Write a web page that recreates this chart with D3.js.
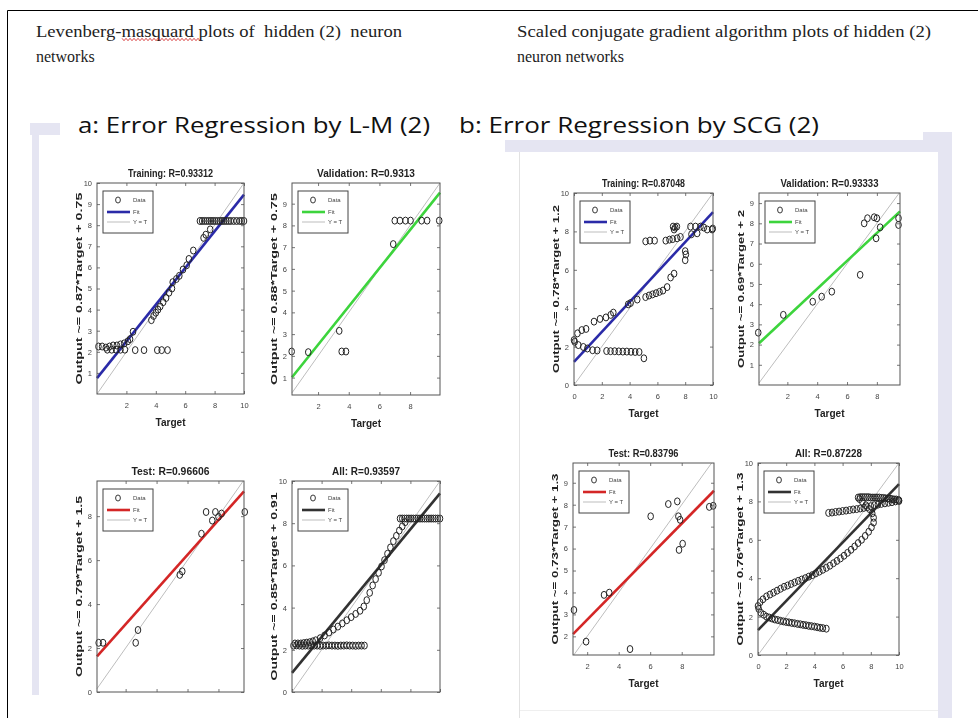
<!DOCTYPE html>
<html>
<head>
<meta charset="utf-8">
<script src="https://cdn.jsdelivr.net/npm/d3@7"></script>
<style>
  body { margin: 0; background: #fff; }
  svg { display: block; }
  text { white-space: pre; }
</style>
</head>
<body>
<div id="chart"></div>
<script>
// ---- data: [target, output] pairs ----
var lmTraining = [
  [0.1,2.25],[0.35,2.25],[0.6,2.2],[0.85,2.25],[1.1,2.3],[1.35,2.3],[1.6,2.35],[1.85,2.4],[2.1,2.5],
  [0.7,2.1],[1.0,2.1],[1.3,2.1],[1.6,2.1],[1.9,2.1],[2.6,2.08],[3.2,2.08],[4.1,2.08],[4.4,2.08],[4.8,2.08],
  [2.25,2.6],[2.45,2.95],[3.7,3.5],[3.85,3.7],[4.0,3.85],[4.15,4.0],[4.3,4.15],[4.5,4.35],[4.7,4.55],
  [4.9,4.8],[5.1,5.0],[5.15,5.3],[5.4,5.45],[5.6,5.6],[5.85,5.9],[6.1,6.1],[6.25,6.4],[6.55,6.8],
  [7.25,7.4],[7.4,7.55],[7.7,7.8],
  [7.0,8.2],[7.15,8.2],[7.3,8.2],[7.45,8.2],[7.6,8.2],[7.75,8.2],[7.9,8.2],[8.05,8.2],[8.2,8.2],[8.35,8.2],
  [8.5,8.2],[8.65,8.2],[8.8,8.2],[8.95,8.2],[9.1,8.2],[9.3,8.2],[9.5,8.2],[9.7,8.2],[9.85,8.2],[10.0,8.2]
];
var lmValidation = [
  [0.28,2.2],[1.36,2.17],[3.38,3.15],[3.54,2.2],[3.82,2.2],[6.9,7.14],[7.0,8.22],[7.34,8.22],
  [7.7,8.22],[8.03,8.22],[8.75,8.22],[9.11,8.22],[9.9,8.22]
];
var lmTest = [
  [0.26,2.24],[0.54,2.24],[2.65,2.24],[2.8,2.82],[5.5,5.33],[5.66,5.49],[6.9,7.2],[7.2,8.19],
  [7.6,7.8],[7.8,8.19],[8.0,7.97],[8.2,8.12],[9.7,8.19]
];
var lmAll = [
  [0.1,2.2],[0.3,2.21],[0.5,2.2],[0.7,2.19],[0.9,2.2],[1.1,2.2],[1.3,2.21],[1.5,2.2],[1.7,2.2],[1.9,2.19],
  [2.1,2.2],[2.3,2.2],[2.5,2.21],[2.7,2.2],[2.9,2.2],[3.1,2.19],[3.3,2.2],[3.5,2.2],[3.7,2.21],[3.9,2.2],
  [4.1,2.2],[4.3,2.19],[4.5,2.2],[4.7,2.2],[4.9,2.2],
  [0.2,2.3],[0.4,2.3],[0.6,2.3],[0.8,2.32],[1.0,2.34],[1.2,2.36],[1.4,2.4],[1.6,2.45],[1.9,2.55],[2.2,2.68],
  [2.5,2.82],[2.8,2.96],[3.1,3.1],[3.4,3.25],[3.7,3.4],[4.0,3.55],[4.3,3.7],[4.6,3.85],[4.85,4.05],[5.05,4.35],
  [5.25,4.7],[5.45,5.05],[5.65,5.35],[5.85,5.65],[6.05,5.95],[6.25,6.25],[6.45,6.55],[6.65,6.85],[6.85,7.15],
  [7.05,7.4],[7.25,7.65],[7.45,7.85],[7.65,8.05],
  [7.3,8.22],[7.45,8.22],[7.6,8.22],[7.75,8.22],[7.9,8.22],[8.05,8.22],[8.2,8.22],[8.35,8.22],[8.5,8.22],
  [8.65,8.22],[8.8,8.22],[8.95,8.22],[9.1,8.22],[9.25,8.22],[9.4,8.22],[9.55,8.22],[9.7,8.22],[9.85,8.22],[10.0,8.22]
];
var scgTraining = [
  [0,2.34],[0.25,2.69],[0.56,2.86],[0.87,2.92],[1.44,3.3],[1.87,3.44],[2.3,3.52],[2.64,3.65],[2.83,3.77],
  [0.05,2.25],[0.31,2.08],[0.67,1.98],[0.96,1.9],[1.34,1.81],[1.67,1.8],[2.34,1.77],[2.63,1.76],[2.93,1.76],
  [3.22,1.75],[3.51,1.74],[3.8,1.74],[4.1,1.73],[4.4,1.72],[4.69,1.72],[5.03,1.39],
  [3.9,4.2],[4.07,4.27],[4.55,4.45],[5.15,4.58],[5.4,4.66],[5.65,4.72],[5.9,4.78],[6.15,4.85],[6.4,4.92],
  [6.7,5.1],[6.95,5.6],[7.2,5.8],
  [5.15,7.48],[5.46,7.52],[5.8,7.52],[6.6,7.52],[6.87,7.57],[7.1,7.6],[7.42,7.64],[7.66,7.71],
  [7.13,8.25],[7.2,8.1],[7.28,8.2],[7.4,8.25],[8.0,6.97],[8.05,6.8],[8.0,6.5],
  [8.38,8.25],[8.74,8.25],[9.1,8.25],[9.34,8.2],[9.58,8.1],[9.94,8.1],[9.98,8.15],[8.45,7.85],[8.86,7.9]
];
var scgValidation = [
  [0.05,2.59],[1.73,3.47],[3.7,4.12],[4.3,4.37],[4.98,4.62],[6.88,5.45],[7.15,8.0],[7.37,8.25],
  [7.82,8.3],[8.0,8.25],[7.95,7.26],[8.22,7.8],[9.45,8.25],[9.45,7.92]
];
var scgTest = [
  [1.16,3.2],[1.93,1.76],[3.07,3.89],[3.4,3.99],[4.72,1.42],[6.03,7.47],[7.15,8.03],[7.72,8.15],
  [7.79,7.47],[7.9,7.31],[7.83,5.94],[8.06,6.22],[9.75,7.9],[10.0,7.95]
];
var scgAll = [
  [0.05,2.4],[0.2,2.2],[0.4,2.1],[0.6,2.0],[0.8,1.95],[1.0,1.9],[1.2,1.85],[1.4,1.82],[1.6,1.78],[1.8,1.75],
  [2.0,1.72],[2.2,1.7],[2.4,1.67],[2.6,1.65],[2.8,1.62],[3.0,1.6],[3.2,1.57],[3.4,1.55],[3.6,1.52],[3.8,1.5],
  [4.0,1.48],[4.2,1.45],[4.4,1.42],[4.6,1.4],[4.85,1.37],
  [0.0,2.55],[0.15,2.75],[0.35,2.9],[0.6,3.05],[0.85,3.15],[1.1,3.25],[1.35,3.35],[1.6,3.45],[1.85,3.55],
  [2.1,3.62],[2.35,3.7],[2.6,3.78],[2.85,3.86],[3.1,3.93],[3.35,4.0],[3.6,4.08],[3.85,4.16],[4.1,4.25],
  [4.35,4.34],[4.6,4.44],[4.85,4.54],[5.1,4.65],[5.35,4.78],[5.6,4.9],[5.85,5.03],[6.1,5.17],[6.35,5.32],
  [6.6,5.48],[6.85,5.65],[7.1,5.83],[7.35,6.0],[7.6,6.2],[7.85,6.42],[8.05,6.65],[8.2,6.9],[8.2,7.15],
  [8.1,7.38],[7.9,7.6],[7.65,7.8],[7.4,7.98],[7.2,8.12],
  [5.0,7.4],[5.25,7.42],[5.5,7.45],[5.75,7.47],[6.0,7.5],[6.25,7.52],[6.5,7.55],[6.75,7.58],[7.0,7.6],
  [7.25,7.63],[7.5,7.66],[7.75,7.7],[8.0,7.75],[8.25,7.8],[8.5,7.83],[8.75,7.87],[9.0,7.9],[9.25,7.93],
  [9.5,7.96],[9.75,8.0],[10.0,8.02],
  [7.1,8.2],[7.25,8.22],[7.4,8.22],[7.55,8.22],[7.7,8.22],[7.85,8.22],[8.0,8.2],[8.15,8.2],[8.3,8.2],
  [8.45,8.2],[8.6,8.2],[8.75,8.18],[8.9,8.18],[9.05,8.16],[9.2,8.15],[9.35,8.14],[9.5,8.12],[9.65,8.1],
  [9.8,8.1],[9.95,8.08],[10.0,8.05]
];

// titles, fit coefficients, ticks
var setNames = ["Training", "Validation", "Test", "All"];
var lmR = ["0.93312", "0.9313", "0.96606", "0.93597"];
var scgR = ["0.87048", "0.93333", "0.83796", "0.87228"];
var lmSlope = [0.87, 0.88, 0.79, 0.85];
var lmIntercept = [0.75, 0.75, 1.5, 0.91];
var scgSlope = [0.78, 0.69, 0.73, 0.76];
var scgIntercept = [1.2, 2, 1.3, 1.3];
var fitColors = ["#2c2ca8", "#3cd43c", "#d42828", "#333333"];
var ticksEven = [0, 2, 4, 6, 8, 10];
var ticksEvenNoZero = [2, 4, 6, 8, 10];
var ticksTwoToEight = [2, 4, 6, 8];
var ticksZeroToEight = [0, 2, 4, 6, 8];
var ticksOneToTen = [1, 2, 3, 4, 5, 6, 7, 8, 9, 10];
var ticksOneToNine = [1, 2, 3, 4, 5, 6, 7, 8, 9];
var ticksTwoToNine = [2, 3, 4, 5, 6, 7, 8, 9];

var svg = d3.select("#chart").append("svg").attr("width", 978).attr("height", 718);
var defs = svg.append("defs");
defs.append("filter").attr("id", "soft")
  .append("feGaussianBlur").attr("stdDeviation", 0.4);
defs.append("clipPath").attr("id", "leftCrop")
  .append("rect").attr("x", 0).attr("y", 0).attr("width", 480).attr("height", 695);

// page frame
svg.append("line").attr("x1", 7.5).attr("y1", 10.5).attr("x2", 978).attr("y2", 10.5)
  .attr("stroke", "#000").attr("stroke-width", 1);
svg.append("line").attr("x1", 7.5).attr("y1", 10.5).attr("x2", 7.5).attr("y2", 718)
  .attr("stroke", "#000").attr("stroke-width", 1);

// document headings
var serif = "'Liberation Serif', 'Times New Roman', serif";
svg.append("text").attr("x", 36).attr("y", 37).attr("font-family", serif).attr("font-size", 16)
  .attr("fill", "#222").attr("textLength", 366).attr("lengthAdjust", "spacingAndGlyphs")
  .text("Levenberg-masquard plots of  hidden (2)  neuron");
svg.append("text").attr("x", 36).attr("y", 62).attr("font-family", serif).attr("font-size", 16)
  .attr("fill", "#222").text("networks");
svg.append("text").attr("x", 517).attr("y", 37).attr("font-family", serif).attr("font-size", 16)
  .attr("fill", "#222").attr("textLength", 414).attr("lengthAdjust", "spacingAndGlyphs")
  .text("Scaled conjugate gradient algorithm plots of hidden (2)");
svg.append("text").attr("x", 517).attr("y", 62).attr("font-family", serif).attr("font-size", 16)
  .attr("fill", "#222").text("neuron networks");

// spell-check squiggle under "masquard"
var squiggle = d3.range(0, 40).map(function (k) { return [122 + k * 2, 39.5 + (k % 2 ? 1.2 : -1.2)]; });
svg.append("path").attr("d", d3.line()(squiggle)).attr("fill", "none")
  .attr("stroke", "#d02020").attr("stroke-width", 0.8);

var sans = "'Open Sans', 'Noto Sans', sans-serif";
svg.append("text").attr("x", 78).attr("y", 133).attr("font-family", sans).attr("font-size", 22)
  .attr("fill", "#111").attr("textLength", 352).attr("lengthAdjust", "spacingAndGlyphs")
  .text("a: Error Regression by L-M (2)");
svg.append("text").attr("x", 459).attr("y", 133).attr("font-family", sans).attr("font-size", 22)
  .attr("fill", "#111").attr("textLength", 360).attr("lengthAdjust", "spacingAndGlyphs")
  .text("b: Error Regression by SCG (2)");

// lavender image frames
var lav = "#e5e5f2";
svg.append("rect").attr("x", 30).attr("y", 123).attr("width", 30).attr("height", 12).attr("fill", lav);
svg.append("rect").attr("x", 32).attr("y", 123).attr("width", 7).attr("height", 572).attr("fill", lav);
svg.append("rect").attr("x", 505).attr("y", 140).attr("width", 447).attr("height", 12).attr("fill", lav);
svg.append("rect").attr("x", 923).attr("y", 132).attr("width", 29).attr("height", 20).attr("fill", lav);
svg.append("rect").attr("x", 938).attr("y", 132).attr("width", 14).attr("height", 586).attr("fill", lav);
svg.append("line").attr("x1", 519.5).attr("y1", 152).attr("x2", 519.5).attr("y2", 718)
  .attr("stroke", "#e2e2e2");
svg.append("line").attr("x1", 520).attr("y1", 710.5).attr("x2", 938).attr("y2", 710.5)
  .attr("stroke", "#efefef");

// the lower L-M plots are cropped in the source image: no x labels there
var plots = [
  { data: lmTraining, name: setNames[0], r: lmR[0], a: lmSlope[0], b: lmIntercept[0], color: fitColors[0],
    box: [97, 183, 244, 394], xDom: [0, 10], yDom: [0, 10], xt: ticksEvenNoZero, yt: ticksOneToTen, tw: 85, yw: 192, left: true },
  { data: lmValidation, name: setNames[1], r: lmR[1], a: lmSlope[1], b: lmIntercept[1], color: fitColors[1],
    box: [292, 183, 440, 395], xDom: [0.3, 9.95], yDom: [0.2, 9.95], xt: ticksTwoToEight, yt: ticksOneToNine, tw: 98, yw: 192, left: true },
  { data: lmTest, name: setNames[2], r: lmR[2], a: lmSlope[2], b: lmIntercept[2], color: fitColors[2],
    box: [97, 481, 244, 692], xDom: [0.15, 9.65], yDom: [0, 9.6], xt: ticksTwoToEight, yt: ticksZeroToEight, tw: 78, yw: 181, left: true, cropped: true },
  { data: lmAll, name: setNames[3], r: lmR[3], a: lmSlope[3], b: lmIntercept[3], color: fitColors[3],
    box: [292, 481, 440, 692], xDom: [0, 10], yDom: [0, 10], xt: ticksEven, yt: ticksEven, tw: 68, yw: 188, left: true, cropped: true },
  { data: scgTraining, name: setNames[0], r: scgR[0], a: scgSlope[0], b: scgIntercept[0], color: fitColors[0],
    box: [574, 193, 713, 385], xDom: [0, 10], yDom: [0, 10], xt: ticksEven, yt: ticksEven, tw: 83, yw: 168 },
  { data: scgValidation, name: setNames[1], r: scgR[1], a: scgSlope[1], b: scgIntercept[1], color: fitColors[1],
    box: [759, 193, 900, 385], xDom: [0.1, 9.55], yDom: [0, 9.5], xt: ticksTwoToEight, yt: ticksOneToNine, tw: 98, yw: 158 },
  { data: scgTest, name: setNames[2], r: scgR[2], a: scgSlope[2], b: scgIntercept[2], color: fitColors[2],
    box: [573, 463, 714, 655], xDom: [1.1, 10.05], yDom: [1.15, 9.9], xt: ticksTwoToEight, yt: ticksTwoToNine, tw: 70, yw: 171 },
  { data: scgAll, name: setNames[3], r: scgR[3], a: scgSlope[3], b: scgIntercept[3], color: fitColors[3],
    box: [758, 463, 899, 655], xDom: [0, 10], yDom: [0, 10], xt: ticksEven, yt: ticksEven, tw: 67, yw: 173 }
];

var leftGroup = svg.append("g").attr("clip-path", "url(#leftCrop)");
var rightGroup = svg.append("g");
var font = "'Liberation Sans', Arial, sans-serif";

plots.forEach(function (p) {
  var g = (p.left ? leftGroup : rightGroup).append("g").attr("filter", "url(#soft)");
  var x0 = p.box[0], y0 = p.box[1], x1 = p.box[2], y1 = p.box[3];
  var x = d3.scaleLinear().domain(p.xDom).range([x0, x1]);
  var y = d3.scaleLinear().domain(p.yDom).range([y1, y0]);

  // axes with inward ticks on all four sides
  var bottom = d3.axisBottom(x).tickValues(p.xt);
  if (p.cropped) bottom.tickFormat("");
  var ax = [
    { gen: bottom, t: "translate(0," + y1 + ")" },
    { gen: d3.axisTop(x).tickValues(p.xt).tickFormat(""), t: "translate(0," + y0 + ")" },
    { gen: d3.axisLeft(y).tickValues(p.yt), t: "translate(" + x0 + ",0)" },
    { gen: d3.axisRight(y).tickValues(p.yt).tickFormat(""), t: "translate(" + x1 + ",0)" }
  ];
  ax.forEach(function (a, k) {
    a.gen.tickSizeInner(-3).tickSizeOuter(0).tickPadding(k === 0 ? 9 : 5);
    var ag = g.append("g").attr("transform", a.t).call(a.gen);
    ag.select(".domain").remove();
    ag.selectAll("line").attr("stroke", "#777");
    ag.selectAll("text").attr("font-family", font).attr("font-size", 7.5).attr("fill", "#444");
  });

  // Y = T line
  var lo = Math.max(p.xDom[0], p.yDom[0]), hi = Math.min(p.xDom[1], p.yDom[1]);
  var line = d3.line().x(function (d) { return x(d[0]); }).y(function (d) { return y(d[1]); });
  g.append("path").attr("d", line([[lo, lo], [hi, hi]]))
    .attr("stroke", "#bdbdbd").attr("stroke-width", 1).attr("fill", "none");

  // fit line
  g.append("path")
    .attr("d", line([[p.xDom[0], p.a * p.xDom[0] + p.b], [p.xDom[1], p.a * p.xDom[1] + p.b]]))
    .attr("stroke", p.color).attr("stroke-width", 2.6).attr("fill", "none");

  // data markers
  g.selectAll("ellipse.pt").data(p.data).enter().append("ellipse").attr("class", "pt")
    .attr("cx", function (d) { return x(d[0]); })
    .attr("cy", function (d) { return y(d[1]); })
    .attr("rx", 2.8).attr("ry", 3.5)
    .attr("fill", "none").attr("stroke", "#222").attr("stroke-width", 1);

  // axes box
  g.append("rect").attr("x", x0).attr("y", y0).attr("width", x1 - x0).attr("height", y1 - y0)
    .attr("fill", "none").attr("stroke", "#555").attr("stroke-width", 1);

  // legend
  var lx = x0 + 6, ly = y0 + 8;
  var lg = g.append("g");
  lg.append("rect").attr("x", lx).attr("y", ly).attr("width", 50).attr("height", 42)
    .attr("fill", "#fff").attr("stroke", "#444").attr("stroke-width", 1);
  lg.append("ellipse").attr("cx", lx + 15).attr("cy", ly + 9).attr("rx", 2.4).attr("ry", 3)
    .attr("fill", "none").attr("stroke", "#222").attr("stroke-width", 0.9);
  lg.append("line").attr("x1", lx + 4).attr("x2", lx + 27).attr("y1", ly + 21).attr("y2", ly + 21)
    .attr("stroke", p.color).attr("stroke-width", 2.6);
  lg.append("line").attr("x1", lx + 4).attr("x2", lx + 27).attr("y1", ly + 31).attr("y2", ly + 31)
    .attr("stroke", "#bdbdbd").attr("stroke-width", 1);
  [["Data", 9], ["Fit", 21], ["Y = T", 31]].forEach(function (it) {
    lg.append("text").attr("x", lx + 30).attr("y", ly + it[1] + 2).attr("font-family", font)
      .attr("font-size", 6).attr("fill", "#444").text(it[0]);
  });

  // title and axis labels
  g.append("text").attr("x", (x0 + x1) / 2).attr("y", y0 - 6).attr("text-anchor", "middle")
    .attr("font-family", font).attr("font-weight", "bold").attr("font-size", 10.5).attr("fill", "#222")
    .attr("textLength", p.tw).attr("lengthAdjust", "spacingAndGlyphs")
    .text(p.name + ": R=" + p.r);
  if (!p.cropped) {
    g.append("text").attr("x", (x0 + x1) / 2).attr("y", y1 + 32).attr("text-anchor", "middle")
      .attr("font-family", font).attr("font-weight", "bold").attr("font-size", 10).attr("fill", "#222")
      .attr("textLength", 30).attr("lengthAdjust", "spacingAndGlyphs").text("Target");
  }
  var cy = (y0 + y1) / 2;
  g.append("text").attr("transform", "translate(" + (x0 - 15) + "," + cy + ") rotate(-90)")
    .attr("text-anchor", "middle").attr("font-family", font).attr("font-weight", "bold")
    .attr("font-size", 9.5).attr("fill", "#222")
    .attr("textLength", p.yw).attr("lengthAdjust", "spacingAndGlyphs")
    .text("Output ~= " + p.a + "*Target + " + p.b);
});
</script>
</body>
</html>
